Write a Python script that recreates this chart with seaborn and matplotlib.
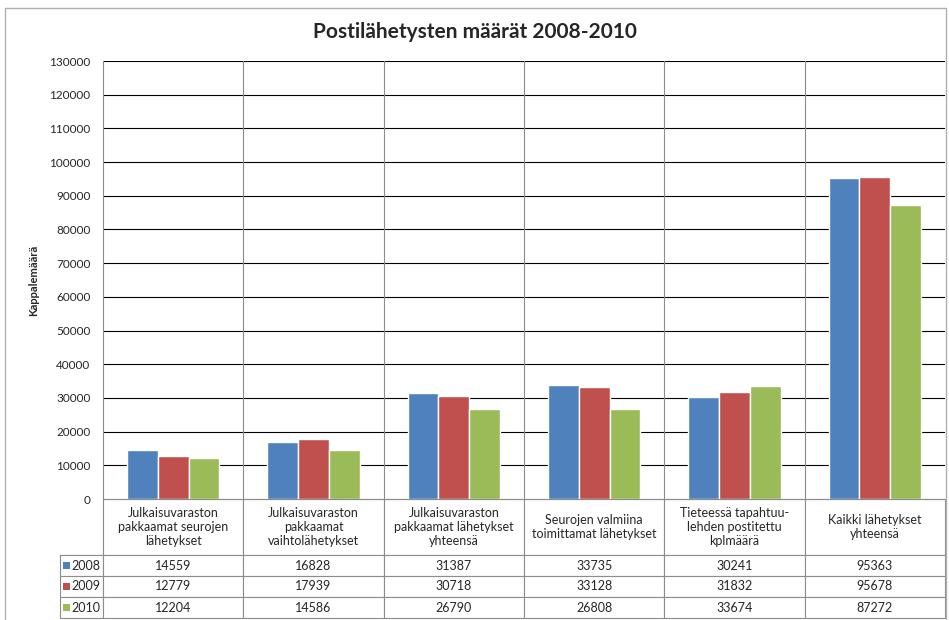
import matplotlib
matplotlib.use("Agg")
import matplotlib.pyplot as plt
from matplotlib.patches import Rectangle
import numpy as np
import pandas as pd
import seaborn as sns

categories = [
    "Julkaisuvaraston\npakkaamat seurojen\nlähetykset",
    "Julkaisuvaraston\npakkaamat\nvaihtolähetykset",
    "Julkaisuvaraston\npakkaamat lähetykset\nyhteensä",
    "Seurojen valmiina\ntoimittamat lähetykset",
    "Tieteessä tapahtuu-\nlehden postitettu\nkplmäärä",
    "Kaikki lähetykset\nyhteensä",
]
years = ["2008", "2009", "2010"]
v2008 = [14559, 16828, 31387, 33735, 30241, 95363]
v2009 = [12779, 17939, 30718, 33128, 31832, 95678]
v2010 = [12204, 14586, 26790, 26808, 33674, 87272]
colors = ["#4F81BD", "#C0504D", "#9BBB59"]

rows = []
for y, vals in zip(years, [v2008, v2009, v2010]):
    for c, v in zip(categories, vals):
        rows.append({"cat": c, "year": y, "value": v})
df = pd.DataFrame(rows)

sns.set_style("white")
plt.rcParams["font.family"] = ["Lato", "DejaVu Sans"]

W, H = 949, 620
fig = plt.figure(figsize=(W / 100, H / 100), dpi=100)
L, R, T, B = 103, 945, 61, 499
ax = fig.add_axes([L / W, 1 - B / H, (R - L) / W, (B - T) / H])

sns.barplot(data=df, x="cat", y="value", hue="year", palette=colors,
            width=0.66, gap=0, saturation=1, ax=ax, legend=False)

ax.set_ylim(0, 130000)
ax.set_xlim(-0.5, len(categories) - 0.5)
ax.set_yticks(np.arange(0, 130001, 10000))
ax.set_yticklabels([str(t) for t in range(0, 130001, 10000)], fontsize=8.5)
ax.tick_params(axis="y", length=4, width=0.8, color="#555555", pad=5)
ax.set_xticks([])
ax.set_xlabel("")
ax.set_ylabel("Kappalemäärä", fontsize=8, fontweight="bold")
ax.yaxis.set_label_coords(-64 / (R - L), 0.5)

ax.set_axisbelow(True)
for t in range(10000, 130001, 10000):
    ax.axhline(t, color="black", lw=0.8, zorder=0)
for i in range(1, len(categories)):
    ax.axvline(i - 0.5, color="#8c8c8c", lw=0.8, zorder=0)
for s in ["top", "right"]:
    ax.spines[s].set_visible(False)
ax.spines["left"].set_color("#8c8c8c")
ax.spines["left"].set_linewidth(0.8)
ax.spines["bottom"].set_color("#8c8c8c")
ax.spines["bottom"].set_linewidth(0.8)

# data table below the plot
cell_text = [[""] + [c for c in categories]]
for y, vals in zip(years, [v2008, v2009, v2010]):
    cell_text.append([y] + [str(v) for v in vals])
lab_w = 43
tbl_top = B
tbl_bot = 618
tbl = ax.table(cellText=cell_text, cellLoc="center",
               bbox=[-lab_w / (R - L), -(tbl_bot - tbl_top) / (B - T),
                     (R - L + lab_w) / (R - L), (tbl_bot - tbl_top) / (B - T)])
tbl.auto_set_font_size(False)
row_h = [56, 21, 21, 21]
for (r, c), cell in tbl.get_celld().items():
    cell.set_height(row_h[r])
    cell.set_width(lab_w if c == 0 else (R - L) / 6)
    cell.set_edgecolor("#8c8c8c")
    cell.set_linewidth(0.8)
    cell.get_text().set_fontsize(9)
    if r == 0 and c == 0:
        cell.visible_edges = "BR"
    if c == 0 and r > 0:
        cell.get_text().set_ha("right")
        cell._loc = "right"
        cell.PAD = 0.05

# legend keys inside the row label cells
for i, col in enumerate(colors):
    yc = 555 + 21 * i + 10.5
    fig.add_artist(Rectangle((63 / W, 1 - (yc + 3.5) / H), 7 / W, 7 / H,
                             transform=fig.transFigure, facecolor=col,
                             edgecolor="none"))

fig.text(0.5, 1 - 32 / H, "Postilähetysten määrät 2008-2010",
         ha="center", va="center", fontsize=15, fontweight="bold")

fig.add_artist(Rectangle((5 / W, -0.01), 941 / W, 1 - 8 / H + 0.01,
                         transform=fig.transFigure, fill=False,
                         edgecolor="#b0b0b0", lw=1))

fig.savefig("out.png", dpi=100)
